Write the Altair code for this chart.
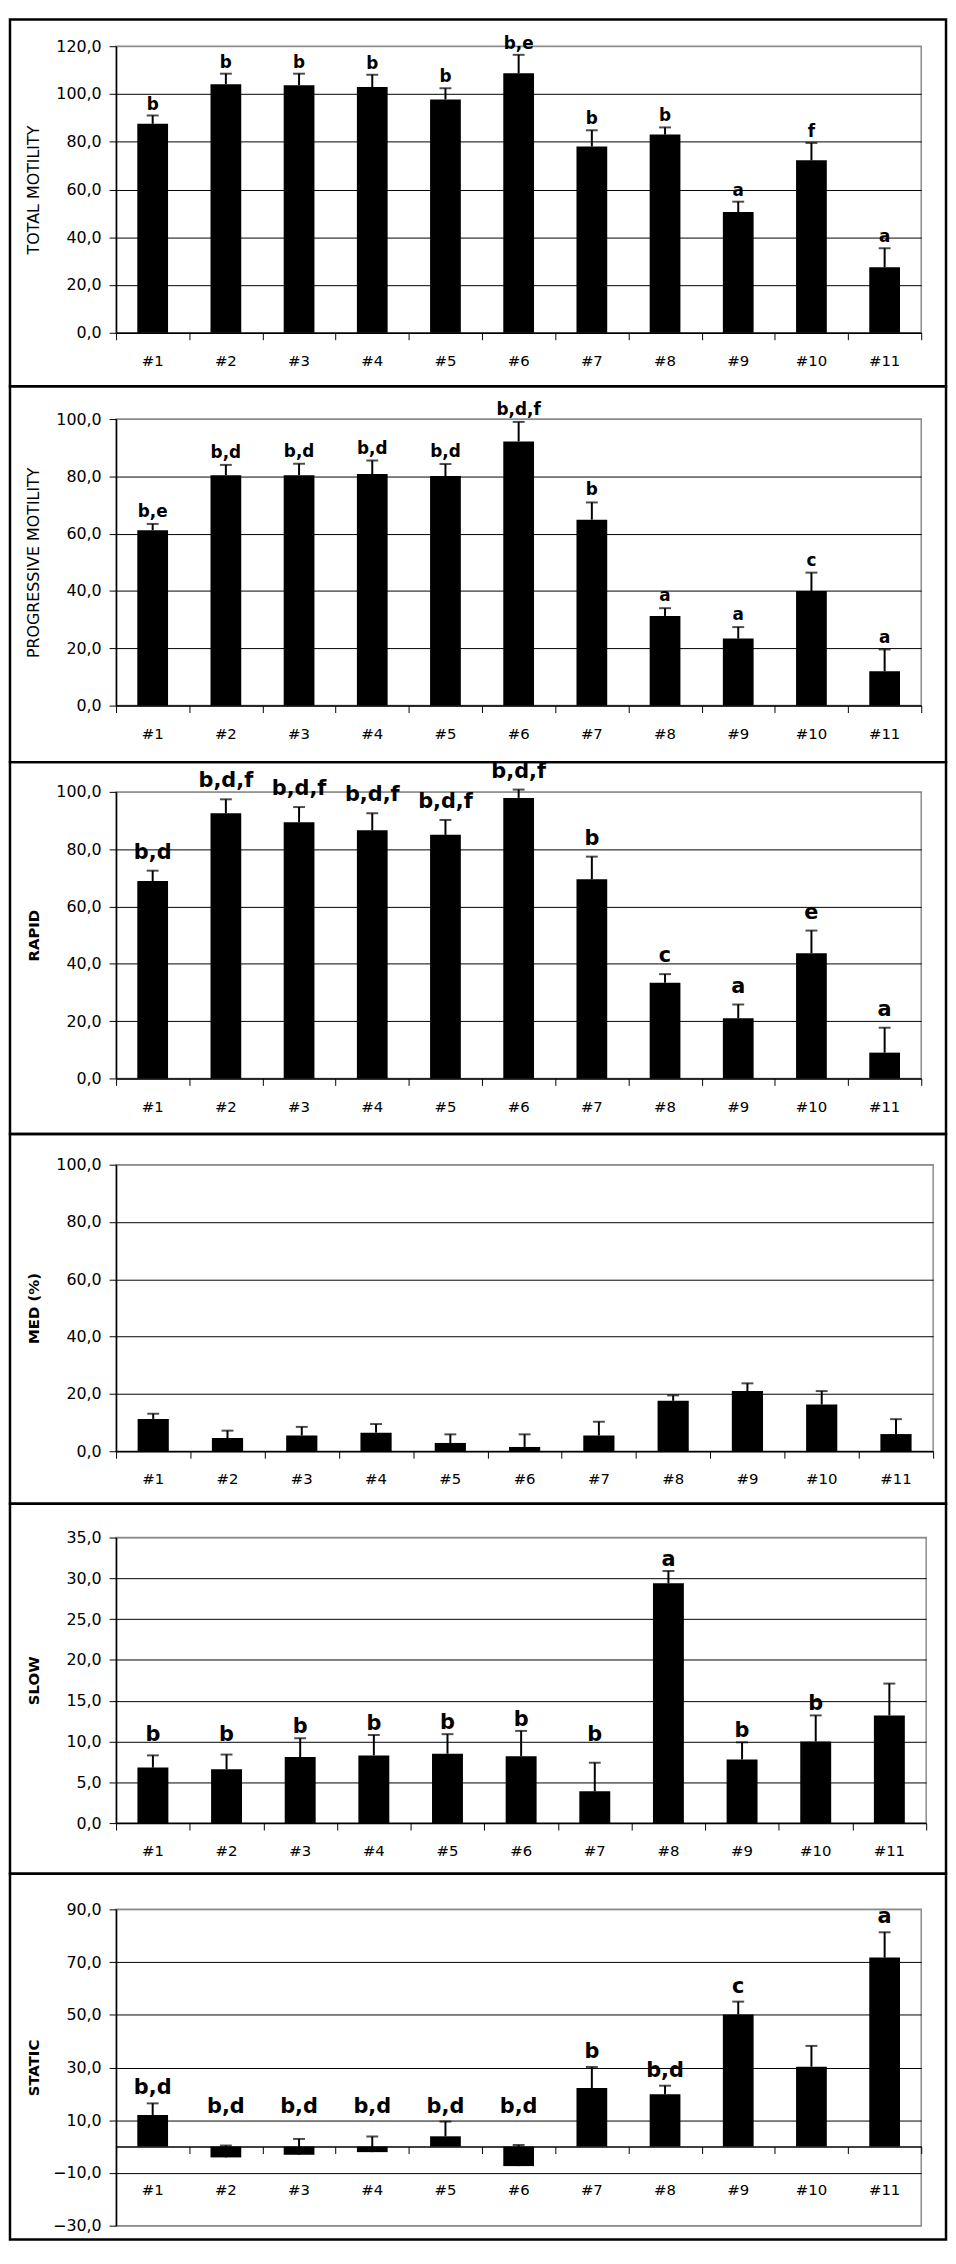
import altair as alt
import pandas as pd

FONT = "DejaVu Sans"

cats = ["#1", "#2", "#3", "#4", "#5", "#6", "#7", "#8", "#9", "#10", "#11"]

# TOTAL MOTILITY
tm_mean = [87.5, 104.1, 103.7, 102.9, 97.7, 108.7, 78.0, 83.0, 50.6, 72.2, 27.4]
tm_sd = [3.5, 4.4, 4.8, 5.2, 4.7, 7.7, 6.8, 3.0, 4.3, 7.3, 8.0]
tm_sig = ["b", "b", "b", "b", "b", "b,e", "b", "b", "a", "f", "a"]

# PROGRESSIVE MOTILITY
pm_mean = [61.2, 80.4, 80.4, 80.8, 80.1, 92.2, 64.9, 31.3, 23.4, 40.0, 12.0]
pm_sd = [2.2, 3.6, 4.0, 4.7, 4.2, 6.8, 6.0, 2.7, 4.0, 6.4, 7.6]
pm_sig = ["b,e", "b,d", "b,d", "b,d", "b,d", "b,d,f", "b", "a", "a", "c", "a"]

# RAPID
rp_mean = [68.9, 92.5, 89.4, 86.6, 85.0, 97.9, 69.5, 33.4, 21.0, 43.7, 9.0]
rp_sd = [3.6, 4.9, 5.3, 5.9, 5.2, 2.9, 7.9, 3.0, 4.8, 7.9, 8.7]
rp_sig = ["b,d", "b,d,f", "b,d,f", "b,d,f", "b,d,f", "b,d,f", "b", "c", "a", "e", "a"]

# MED (%)
md_mean = [11.3, 4.6, 5.5, 6.5, 2.9, 1.5, 5.5, 17.6, 21.0, 16.3, 6.0]
md_sd = [1.8, 2.6, 3.0, 3.0, 3.0, 4.4, 4.8, 1.9, 2.7, 4.7, 5.2]
md_sig = [""] * 11

# SLOW
sl_mean = [6.8, 6.6, 8.1, 8.3, 8.5, 8.2, 3.9, 29.4, 7.8, 10.0, 13.2]
sl_sd = [1.5, 1.8, 2.3, 2.5, 2.4, 3.1, 3.5, 1.5, 2.1, 3.2, 3.9]
sl_sig = ["b", "b", "b", "b", "b", "b", "b", "a", "b", "b", ""]

# STATIC
st_mean = [12.0, -4.1, -3.1, -2.1, 3.9, -7.4, 22.2, 19.9, 50.1, 30.3, 71.7]
st_sd = [4.4, 4.5, 6.0, 5.9, 5.6, 8.0, 8.0, 3.2, 4.9, 7.9, 9.6]
st_sig = ["b,d", "b,d", "b,d", "b,d", "b,d", "b,d", "b", "b,d", "c", "", "a"]

L = 107  # frame left offset from plot area (same for all panels)


def panel(title, means, sds, sig, ymin, ymax, step, W, H, R, T, B,
          title_bold, title_size, sig_size, sig_pad, sig_floor, xlab_dy):
    hi = [m + s for m, s in zip(means, sds)]
    df = pd.DataFrame({
        "cat": cats,
        "mean": means,
        "hi": hi,
        "lab": [max(h, sig_floor) for h in hi],
        "sig": sig,
    })
    ticks = list(range(ymin, ymax + 1, step))
    xoff = -H * (0 - ymin) / (ymax - ymin)

    xaxis = alt.Axis(
        title=None, labels=False, tickBand="extent", tickSize=7,
        tickColor="black", tickWidth=1, domainColor="black", domainWidth=1.5,
        offset=xoff, grid=False,
    )
    x = alt.X("cat:N", sort=cats,
              scale=alt.Scale(paddingInner=0, paddingOuter=0), axis=xaxis)
    yscale = alt.Scale(domain=[ymin, ymax], nice=False, zero=False)
    yaxis = alt.Axis(
        values=ticks,
        labelExpr="replace(format(datum.value, '.1f'), '.', ',')",
        title=title, titleFont=FONT, titleFontSize=title_size,
        titleFontWeight="bold" if title_bold else "normal",
        titleColor="black", titleAngle=270, titleX=-83, titleY=H / 2,
        titleBaseline="middle", titleAlign="center",
        tickSize=7, tickColor="black", domainColor="black", domainWidth=1.5,
        labelPadding=8, labelFont=FONT, labelFontSize=16, labelColor="black",
        grid=True, gridWidth=1,
        gridColor={"condition": {"test": f"datum.value >= {ymax} || datum.value <= {ymin}",
                                 "value": "#8c8c8c"},
                   "value": "black"},
    )

    def Y(field):
        return alt.Y(field, type="quantitative", scale=yscale, axis=yaxis)

    base = alt.Chart(df).encode(x=x)
    bars = base.mark_bar(color="black", width=alt.RelativeBandSize(0.42)).encode(
        y=Y("mean"), y2=alt.datum(0))
    rule = base.mark_rule(color="black", strokeWidth=2).encode(
        y=Y("mean"), y2="hi:Q")
    cap = base.mark_tick(color="black", size=12, thickness=2).encode(y=Y("hi"))
    txt = base.mark_text(font=FONT, fontWeight="bold", fontSize=sig_size,
                         baseline="alphabetic", dy=-sig_pad,
                         color="black").encode(y=Y("lab"), text="sig:N")
    xlab = base.mark_text(font=FONT, fontSize=15, baseline="middle",
                          dy=xlab_dy, color="black").encode(
        y=alt.YDatum(0, scale=yscale, axis=yaxis), text="cat:N")
    frame = alt.Chart(pd.DataFrame({"f": [0]})).mark_rect(
        fill="transparent", stroke="black", strokeWidth=2.5
    ).encode(x=alt.value(-L), x2=alt.value(W + R),
             y=alt.value(-T), y2=alt.value(H + B))
    return alt.layer(frame, bars, rule, cap, txt, xlab).properties(width=W, height=H)


p1 = panel("TOTAL MOTILITY", tm_mean, tm_sd, tm_sig, 0, 120, 20,
           812, 289, 25, 27, 54, False, 16, 17, 6, 0, 29)
p2 = panel("PROGRESSIVE MOTILITY", pm_mean, pm_sd, pm_sig, 0, 100, 20,
           812, 289, 25, 33, 57, False, 16, 17, 7, 0, 29)
p3 = panel("RAPID", rp_mean, rp_sd, rp_sig, 0, 100, 20,
           812, 289, 25, 30, 56, True, 15, 21, 12, 0, 29)
p4 = panel("MED (%)", md_mean, md_sd, md_sig, 0, 100, 20,
           824, 289, 13, 31, 53, True, 15, 17, 6, 0, 28)
p5 = panel("SLOW", sl_mean, sl_sd, sl_sig, 0, 35, 5,
           817, 288, 20, 34, 51, True, 15, 21, 5, 9.5, 28)
p6 = panel("STATIC", st_mean, st_sd, st_sig, -30, 90, 20,
           812, 319, 25, 36, 14, True, 15, 21, 9, 9.5, 44)

chart = alt.vconcat(p1, p2, p3, p4, p5, p6, spacing=87,
                    bounds="flush").properties(
    padding=0, background="white"
).configure_view(stroke="#8c8c8c", strokeWidth=1.5)

chart.save("out.html", embed_options={"renderer": "svg", "actions": False})
